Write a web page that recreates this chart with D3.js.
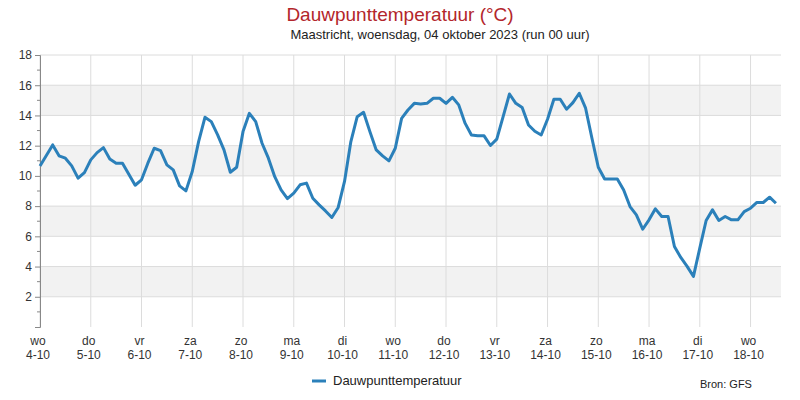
<!DOCTYPE html>
<html><head><meta charset="utf-8">
<script src="https://cdn.jsdelivr.net/npm/d3@7"></script>
<style>body{margin:0;background:#fff}text{font-family:"Liberation Sans",Arial,sans-serif}</style>
</head><body><svg id="c" width="800" height="400"></svg>
<script>
const dayNames=["wo","do","vr","za","zo","ma","di","wo","do","vr","za","zo","ma","di","wo"];
const dayDates=["4-10","5-10","6-10","7-10","8-10","9-10","10-10","11-10","12-10","13-10","14-10","15-10","16-10","17-10","18-10"];
const yTicks=[2,4,6,8,10,12,14,16,18];
// 3-hourly dew point values from 4-10 00 uur
const dewpoint=[10.66,11.35,12.05,11.33,11.17,10.66,9.85,10.22,11.06,11.54,11.87,11.12,10.84,10.84,10.11,9.38,9.74,10.84,11.83,11.67,10.73,10.40,9.34,9.01,10.29,12.27,13.88,13.59,12.71,11.72,10.24,10.57,12.93,14.14,13.59,12.16,11.17,9.95,9.07,8.5,
8.86,9.41,9.52,8.52,8.08,7.68,7.25,7.91,9.63,12.27,13.92,14.21,12.93,11.72,11.32,10.99,11.83,13.81,14.36,14.80,14.76,14.80,15.14,15.14,14.80,15.20,14.70,13.49,12.71,12.65,12.65,12.01,12.43,13.92,15.42,14.80,14.52,13.37,12.95,12.71,
13.75,15.07,15.07,14.41,14.85,15.47,14.48,12.49,10.57,9.80,9.80,9.80,9.07,7.97,7.42,6.47,7.09,7.82,7.31,7.31,5.33,4.60,4.01,3.35,5.22,7.05,7.75,7.05,7.31,7.09,7.09,7.64,7.86,8.24,8.24,8.59,8.19];
const hours=dewpoint.map((d,i)=>i*3);

const svg=d3.select("#c");
const L=40,R=781,T=55,B=327;
const x=d3.scaleLinear().domain([0,350.4]).range([L,R]);
const y=d3.scaleLinear().domain([0,18]).range([B,T]);
[[2,4],[6,8],[10,12],[14,16]].forEach(b=>svg.append("rect").attr("x",L).attr("width",R-L).attr("y",y(b[1])).attr("height",y(b[0])-y(b[1])).attr("fill","#f2f2f2"));
const g=svg.append("g");
yTicks.forEach(t=>g.append("line").attr("x1",L).attr("x2",R).attr("y1",y(t)).attr("y2",y(t)).attr("stroke","#dcdcdc"));
dayNames.forEach((d,i)=>g.append("line").attr("x1",x(i*24)).attr("x2",x(i*24)).attr("y1",T).attr("y2",B).attr("stroke","#dcdcdc"));
const ya=d3.axisLeft(y).tickValues(yTicks).tickSize(5).tickFormat(d3.format("d"));
const ag=svg.append("g").attr("transform",`translate(${L},0)`).call(ya);
ag.select(".domain").attr("stroke","#888");
ag.selectAll(".tick line").attr("stroke","#888");
ag.selectAll("text").attr("font-size",12).attr("fill","#333").attr("font-family","Liberation Sans, Arial, sans-serif");
d3.range(1,18,2).forEach(v=>svg.append("line").attr("x1",L-3).attr("x2",L).attr("y1",y(v)).attr("y2",y(v)).attr("stroke","#888"));
const xl=svg.append("g").attr("font-size",12).attr("fill","#333").attr("text-anchor","middle");
dayNames.forEach((d,i)=>{xl.append("text").attr("x",x(i*24)-2).attr("y",345).text(d);xl.append("text").attr("x",x(i*24)-2).attr("y",359).text(dayDates[i]);});
svg.append("path").datum(dewpoint).attr("fill","none").attr("stroke","#2b80ba").attr("stroke-width",3).attr("stroke-linejoin","round")
 .attr("d",d3.line().x((d,i)=>x(hours[i])).y(d=>y(d)));
svg.append("text").attr("x",400).attr("y",21).attr("text-anchor","middle").attr("font-size",19).attr("fill","#b3262b").text("Dauwpunttemperatuur (°C)");
svg.append("text").attr("x",440).attr("y",39).attr("text-anchor","middle").attr("font-size",13).attr("fill","#222").text("Maastricht, woensdag, 04 oktober 2023 (run 00 uur)");
svg.append("line").attr("x1",312).attr("x2",326).attr("y1",381).attr("y2",381).attr("stroke","#2b80ba").attr("stroke-width",3);
svg.append("text").attr("x",333).attr("y",385).attr("font-size",13).attr("fill","#222").text("Dauwpunttemperatuur");
svg.append("text").attr("x",700).attr("y",388).attr("font-size",11).attr("fill","#222").text("Bron: GFS");
</script></body></html>
